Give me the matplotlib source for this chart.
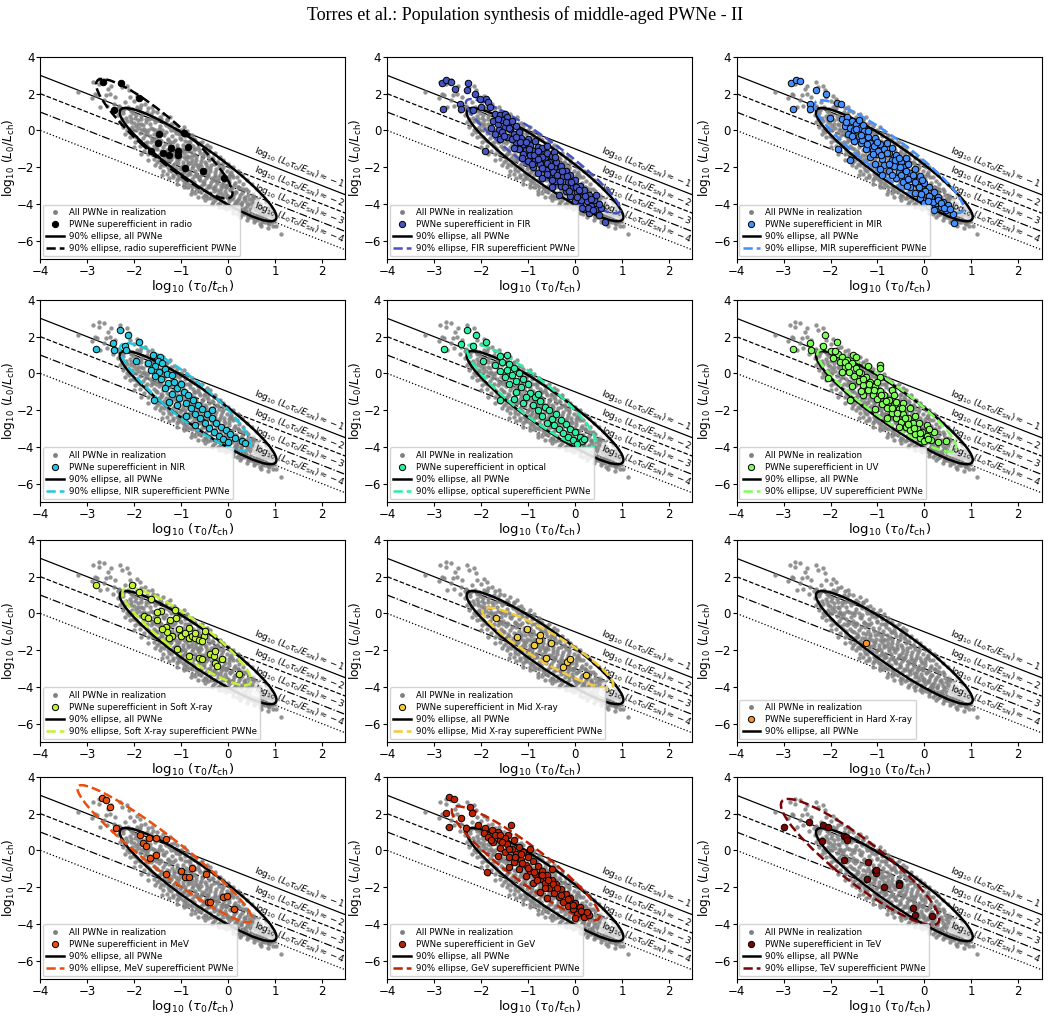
import numpy as np
import matplotlib
matplotlib.use('Agg')                       # pas d'écran, on sauve directement
from matplotlib import pyplot as plt
from matplotlib.patches import Ellipse
from matplotlib.lines import Line2D

# ================================
# Données
# ================================
bandes = ['radio', 'FIR', 'MIR', 'NIR', 'optical', 'UV',
          'Soft X-ray', 'Mid X-ray', 'Hard X-ray', 'MeV', 'GeV', 'TeV']

# niveaux log10(L0 tau0 / E_SN) des droites
niveaux = [-1, -2, -3, -4]

# toutes les PWNe de la réalisation : (log10 tau0/tch, log10 L0/Lch)
pwne_toutes = [
    (-3.19, 2.09), (-2.87, 2.64), (-2.76, 2.82), (-2.65, 2.73), (-2.76, 2.55), (-2.30, 2.64),
    (-2.27, 2.36), (-2.55, 2.27), (-2.83, 2.00), (-2.80, 1.91), (-2.51, 2.00), (-2.41, 1.82),
    (-2.65, 1.64), (-2.58, 1.36), (-2.72, 1.27), (-2.44, 1.45), (-2.09, 1.82), (-2.12, 2.18),
    (-2.23, 1.09), (-2.00, 1.60), (-2.20, 1.55), (-2.35, 1.20), (-1.85, 1.40), (-1.70, 1.20),
    (-1.95, 1.90), (-2.45, 1.05), (-2.60, 1.95), (-2.90, 1.75), (-2.50, 2.45), (-2.15, 2.45),
    (-2.30, 0.45), (-2.34, 0.82), (-2.28, 1.10), (-2.25, 0.20), (-2.32, 1.35), (-2.27, 0.60),
    (-2.16, 0.00), (-2.22, 0.35), (-2.18, 0.70), (-2.24, 0.95), (-2.20, 1.20), (-2.15, 0.50),
    (-2.19, -0.20), (-2.09, -0.36), (-2.12, 0.10), (-2.06, 0.45), (-2.10, 0.80), (-2.08, 1.05),
    (-2.13, 1.30), (-2.05, 0.20), (-2.11, -0.10), (-1.98, -0.64), (-2.02, -0.30), (-1.97, 0.05),
    (-2.01, 0.40), (-1.99, 0.70), (-2.03, 0.95), (-1.95, 1.27), (-1.96, 0.25), (-1.88, -0.85),
    (-1.92, -0.50), (-1.87, -0.15), (-1.90, 0.15), (-1.93, 0.55), (-1.86, 0.80), (-1.88, 1.73),
    (-1.91, 1.10), (-1.85, 0.35), (-1.80, -1.09), (-1.78, -0.70), (-1.82, -0.40), (-1.77, -0.05),
    (-1.81, 0.30), (-1.76, 0.60), (-1.77, 1.45), (-1.83, 0.90), (-1.79, 0.10), (-1.70, -1.30),
    (-1.68, -0.95), (-1.72, -0.60), (-1.66, -0.30), (-1.71, 0.00), (-1.67, 0.35), (-1.69, 0.65),
    (-1.73, -0.15), (-1.65, 0.90), (-1.59, -1.55), (-1.62, -1.20), (-1.58, -0.85), (-1.61, -0.50),
    (-1.57, -0.20), (-1.60, 0.10), (-1.63, 1.27), (-1.56, 0.45), (-1.64, -0.65), (-1.59, 0.70),
    (-1.45, -2.00), (-1.52, -1.70), (-1.48, -1.35), (-1.51, -1.00), (-1.47, -0.70), (-1.53, -0.40),
    (-1.49, -0.10), (-1.52, 1.00), (-1.46, 0.25), (-1.50, 0.55), (-1.54, -0.95), (-1.38, -2.18),
    (-1.42, -1.85), (-1.37, -1.50), (-1.41, -1.20), (-1.39, -0.90), (-1.43, -0.55), (-1.36, -0.25),
    (-1.38, 0.91), (-1.40, 0.05), (-1.35, 0.40), (-1.44, -1.30), (-1.30, -2.35), (-1.28, -2.00),
    (-1.32, -1.70), (-1.27, -1.35), (-1.31, -1.05), (-1.26, -0.75), (-1.29, -0.45), (-1.33, -0.10),
    (-1.25, 0.20), (-1.30, 0.55), (-1.28, -1.55), (-1.17, -2.55), (-1.22, -2.20), (-1.18, -1.90),
    (-1.21, -1.55), (-1.16, -1.25), (-1.20, -0.95), (-1.23, -0.60), (-1.19, -0.30), (-1.24, 0.73),
    (-1.15, 0.00), (-1.22, 0.35), (-1.18, -1.40), (-1.10, -2.70), (-1.08, -2.35), (-1.12, -2.05),
    (-1.07, -1.75), (-1.11, -1.45), (-1.06, -1.15), (-1.09, -0.80), (-1.13, -0.50), (-1.10, 0.27),
    (-1.05, -0.20), (-1.12, 0.00), (-1.08, -1.60), (-0.95, -2.91), (-1.02, -2.60), (-0.98, -2.30),
    (-1.01, -2.00), (-0.97, -1.70), (-1.03, -1.40), (-0.99, -1.10), (-0.96, -0.80), (-1.00, -0.45),
    (-0.95, 0.18), (-1.02, -0.15), (-0.97, -1.90), (-1.04, -2.45), (-0.88, -3.05), (-0.92, -2.75),
    (-0.87, -2.45), (-0.91, -2.15), (-0.86, -1.85), (-0.90, -1.55), (-0.93, -1.25), (-0.89, -0.95),
    (-0.85, -0.60), (-0.91, -0.30), (-0.87, -0.05), (-0.92, -2.00), (-0.88, -1.40), (-0.78, -3.27),
    (-0.82, -2.95), (-0.77, -2.65), (-0.81, -2.35), (-0.76, -2.05), (-0.80, -1.75), (-0.83, -1.45),
    (-0.79, -1.15), (-0.75, -0.85), (-0.81, -0.55), (-0.77, -0.25), (-0.84, -2.20), (-0.78, -1.60),
    (-0.70, -3.40), (-0.68, -3.10), (-0.72, -2.80), (-0.67, -2.50), (-0.71, -2.20), (-0.66, -1.90),
    (-0.69, -1.60), (-0.73, -1.30), (-0.70, -1.00), (-0.65, -0.70), (-0.72, -0.45), (-0.68, -2.35),
    (-0.71, -1.75), (-0.53, -3.64), (-0.62, -3.30), (-0.58, -3.00), (-0.61, -2.70), (-0.57, -2.40),
    (-0.63, -2.10), (-0.59, -1.80), (-0.56, -1.50), (-0.60, -1.20), (-0.64, -0.90), (-0.55, -0.60),
    (-0.62, -2.55), (-0.58, -1.95), (-0.50, -3.50), (-0.48, -3.20), (-0.52, -2.90), (-0.47, -2.60),
    (-0.51, -2.30), (-0.46, -2.00), (-0.49, -1.70), (-0.53, -1.40), (-0.50, -1.10), (-0.45, -0.80),
    (-0.52, -2.75), (-0.48, -2.15), (-0.39, -0.91), (-0.42, -3.70), (-0.38, -3.40), (-0.41, -3.10),
    (-0.37, -2.80), (-0.43, -2.50), (-0.39, -2.20), (-0.36, -1.90), (-0.40, -1.60), (-0.44, -1.30),
    (-0.38, -2.95), (-0.42, -2.35), (-0.32, -3.91), (-0.28, -3.60), (-0.31, -3.30), (-0.27, -3.00),
    (-0.33, -2.70), (-0.29, -2.40), (-0.26, -2.10), (-0.30, -1.80), (-0.34, -1.50), (-0.28, -1.20),
    (-0.31, -3.15), (-0.27, -2.55), (-0.17, -1.45), (-0.22, -4.00), (-0.18, -3.75), (-0.21, -3.45),
    (-0.16, -3.15), (-0.23, -2.85), (-0.19, -2.55), (-0.15, -2.25), (-0.20, -1.95), (-0.24, -1.70),
    (-0.18, -3.30), (-0.22, -2.70), (-0.10, -4.18), (-0.08, -3.90), (-0.12, -3.60), (-0.07, -3.30),
    (-0.11, -3.00), (-0.06, -2.70), (-0.09, -2.40), (-0.13, -2.10), (-0.10, -1.75), (-0.05, -3.45),
    (-0.12, -2.85), (0.04, -2.00), (-0.02, -4.10), (0.02, -3.85), (-0.01, -3.55), (0.03, -3.25),
    (-0.03, -2.95), (0.01, -2.65), (0.05, -2.35), (0.00, -3.70), (-0.04, -3.10), (0.02, -2.50),
    (0.10, -4.35), (0.12, -4.05), (0.08, -3.75), (0.13, -3.45), (0.09, -3.15), (0.14, -2.85),
    (0.11, -2.55), (0.07, -2.25), (0.10, -3.60), (0.15, -3.95), (0.18, -4.55), (0.18, -2.55),
    (0.22, -4.25), (0.19, -3.95), (0.23, -3.65), (0.17, -3.35), (0.21, -3.05), (0.24, -2.75),
    (0.20, -3.80), (0.16, -4.10), (0.32, -2.91), (0.28, -4.60), (0.31, -4.30), (0.27, -4.00),
    (0.33, -3.70), (0.29, -3.40), (0.26, -3.15), (0.30, -3.90), (0.34, -4.45), (0.42, -4.70),
    (0.38, -4.40), (0.41, -4.10), (0.37, -3.80), (0.43, -3.50), (0.39, -3.20), (0.44, -4.55),
    (0.40, -3.95), (0.46, -4.73), (0.53, -3.45), (0.48, -4.45), (0.52, -4.15), (0.50, -3.85),
    (0.55, -4.60), (0.47, -4.00), (0.51, -3.65), (0.58, -4.85), (0.62, -4.55), (0.60, -4.25),
    (0.63, -3.95), (0.57, -3.70), (0.65, -4.40), (0.61, -4.70), (0.67, -5.09), (0.67, -4.00),
    (0.70, -4.75), (0.72, -4.45), (0.68, -4.20), (0.74, -4.90), (0.71, -4.60), (0.82, -4.55),
    (0.78, -5.00), (0.80, -4.80), (0.84, -4.35), (0.79, -4.65), (0.86, -5.05), (0.96, -5.18),
    (0.90, -4.90), (0.93, -4.65), (0.88, -5.10), (0.92, -4.45), (1.13, -5.64), (1.00, -4.95),
    (1.03, -5.20), (0.98, -4.70),
    # bord haut-droit du nuage, près de la droite -1
    (-1.60, 1.05), (-1.45, 0.75), (-1.30, 0.60), (-1.15, 0.40), (-1.00, 0.05), (-0.90, -0.20),
    (-0.80, -0.35), (-0.70, -0.50), (-0.60, -0.70), (-0.50, -0.90), (-0.40, -1.10), (-0.30, -1.30),
    (-0.20, -1.50), (-0.10, -1.60), (0.00, -1.80), (0.10, -2.00), (0.20, -2.20), (0.30, -2.40),
    (0.40, -2.70), (0.50, -2.90), (0.60, -3.20), (0.70, -3.50), (0.80, -3.90), (0.90, -4.20),
    # bord bas-gauche du nuage
    (-2.00, -0.90), (-1.85, -1.30), (-1.70, -1.60), (-1.55, -1.90), (-1.40, -2.40), (-1.25, -2.60),
    (-1.10, -2.90), (-0.95, -3.10), (-0.80, -3.45), (-0.65, -3.60), (-0.50, -3.80), (-0.35, -4.00),
    (-0.20, -4.15), (-0.05, -4.30), (0.10, -4.50), (0.25, -4.70), (0.40, -4.85), (0.55, -5.00),
    (0.70, -5.20), (0.85, -5.30),
    # coeur dense
    (-2.07, 0.60), (-2.02, 0.00), (-2.04, 1.15), (-1.97, -0.35), (-1.93, 0.35), (-1.96, 0.85),
    (-1.87, -0.55), (-1.83, 0.05), (-1.85, 0.60), (-1.88, 1.20), (-1.73, -0.85), (-1.77, -0.25),
    (-1.75, 0.45), (-1.72, 1.00), (-1.67, -1.05), (-1.63, -0.45), (-1.65, 0.15), (-1.62, 0.70),
    (-1.57, -1.30), (-1.53, -0.60), (-1.55, 0.00), (-1.58, 0.60), (-1.47, -1.60), (-1.43, -1.10),
    (-1.45, -0.50), (-1.48, 0.10), (-1.42, 0.65), (-1.37, -1.90), (-1.33, -1.35), (-1.35, -0.75),
    (-1.38, -0.20), (-1.32, 0.30), (-1.27, -2.15), (-1.23, -1.60), (-1.25, -1.10), (-1.28, -0.50),
    (-1.22, 0.05), (-1.17, -2.40), (-1.13, -1.75), (-1.15, -1.10), (-1.18, -0.65), (-1.12, -0.15),
    (-1.07, -2.60), (-1.03, -2.10), (-1.05, -1.55), (-1.08, -0.95), (-1.02, -0.40), (-0.97, -2.70),
    (-0.93, -2.25), (-0.95, -1.45), (-0.98, -1.00), (-0.92, -0.55), (-0.87, -2.85), (-0.83, -2.30),
    (-0.85, -1.70), (-0.88, -1.10), (-0.82, -0.75), (-0.77, -3.05), (-0.73, -2.50), (-0.75, -1.95),
    (-0.78, -1.40), (-0.72, -1.00), (-0.67, -3.20), (-0.63, -2.65), (-0.65, -2.00), (-0.68, -1.45),
    (-0.62, -1.05), (-0.57, -3.35), (-0.53, -2.85), (-0.55, -2.25), (-0.58, -1.65), (-0.52, -1.20),
    (-0.47, -3.55), (-0.43, -3.00), (-0.45, -2.45), (-0.48, -1.85), (-0.42, -1.40), (-0.37, -3.65),
    (-0.33, -3.15), (-0.35, -2.60), (-0.38, -2.05), (-0.32, -1.55), (-0.27, -3.80), (-0.23, -3.25),
    (-0.25, -2.75), (-0.28, -2.25), (-0.22, -1.75), (-0.17, -3.95), (-0.13, -3.45), (-0.15, -2.95),
    (-0.18, -2.45), (-0.12, -2.00), (-0.07, -4.05), (-0.03, -3.60), (-0.05, -3.05), (-0.08, -2.60),
    (-0.02, -2.20), (0.03, -4.20), (0.07, -3.70), (0.05, -3.20), (0.02, -2.80), (0.08, -2.40),
    (0.13, -4.30), (0.17, -3.85), (0.15, -3.35), (0.12, -2.95), (0.23, -4.45), (0.27, -4.05),
    (0.25, -3.50), (0.22, -3.05), (0.33, -4.55), (0.37, -4.20), (0.35, -3.60), (0.32, -3.20),
    (0.43, -4.65), (0.47, -4.25), (0.45, -3.75), (0.42, -3.30), (0.53, -4.75), (0.57, -4.35),
    (0.55, -3.95), (0.52, -3.55), (0.63, -4.90), (0.67, -4.55), (0.65, -4.10), (0.62, -3.75),
    (0.73, -5.00), (0.77, -4.60), (0.75, -4.30), (0.83, -4.90), (0.87, -4.60), (0.85, -4.15),
    (0.93, -5.00), (0.97, -4.80),
]

# PWNe superefficaces, une liste par bande
pwne_radio = [
    (-2.67, 2.65), (-2.28, 2.56), (-1.89, 1.75), (-2.43, 1.12), (-1.48, -0.20), (-0.93, -0.14),
    (-1.50, -0.69), (-1.39, -1.23), (-1.21, -0.96), (-1.26, -1.32), (-1.07, -1.14), (-1.07, -1.32),
    (-0.86, -0.92), (-1.65, -1.14), (-0.91, -2.04), (-0.54, -2.18), (-0.09, -2.58),
]
pwne_fir = [
    (-2.84, 2.56), (-2.74, 2.74), (-2.65, 2.65), (-2.56, 2.25), (-2.29, 2.56), (-2.31, 2.20),
    (-2.13, 1.98), (-2.45, 1.47), (-2.44, 1.17), (-2.81, 1.17), (-1.89, 1.74), (-1.85, 1.56),
    (-1.82, 1.29), (-2.03, 1.74), (-2.17, 1.11), (-1.92, -1.09), (-2.00, 1.30),
    (-1.70, 0.90), (-1.60, 0.84), (-1.50, 0.90), (-1.45, 0.75), (-1.75, 0.50), (-1.65, 0.35),
    (-1.55, 0.55), (-1.42, 0.40), (-1.80, 0.15), (-1.62, 0.05), (-1.50, 0.20), (-1.38, 0.10),
    (-1.70, -0.20), (-1.55, -0.10), (-1.45, -0.35), (-1.30, -0.20), (-1.35, 0.50), (-1.25, 0.25),
    (-1.60, -0.45), (-1.20, -0.10), (-1.15, -0.40), (-1.25, -0.65), (-1.10, -0.75), (-1.00, -0.45),
    (-0.95, -0.80), (-1.05, -1.05), (-1.20, -1.00), (-0.90, -1.10), (-0.85, -0.55), (-0.80, -0.90),
    (-0.75, -1.30), (-0.95, -1.35), (-1.10, -1.30), (-0.70, -0.95), (-0.65, -1.55), (-0.85, -1.60),
    (-1.00, -1.65), (-0.60, -1.20), (-0.55, -1.70), (-0.75, -1.85), (-0.90, -2.00), (-0.50, -1.40),
    (-0.45, -2.00), (-0.62, -2.15), (-0.80, -2.30), (-0.40, -1.70), (-0.35, -2.25), (-0.55, -2.45),
    (-0.70, -2.60), (-0.30, -1.95), (-0.25, -2.50), (-0.40, -2.75), (-0.20, -2.20), (-0.15, -2.80),
    (-0.30, -3.00), (-0.10, -2.45), (-0.05, -3.10), (-0.20, -3.30), (0.00, -2.70), (0.05, -3.35),
    (-0.10, -3.55), (0.10, -3.00), (0.15, -3.60), (0.00, -3.85), (0.20, -3.25), (0.25, -3.85),
    (0.10, -4.05), (0.30, -3.50), (0.35, -4.10), (0.20, -4.30), (0.40, -3.80), (0.45, -4.30),
    (0.30, -4.50), (0.55, -4.20), (0.50, -4.60), (0.63, -5.00), (-0.50, -3.10), (-0.35, -3.50),
    (0.45, -3.50), (-0.60, -0.85), (-0.45, -1.15),
    (-1.65, 0.60), (-1.40, 0.15), (-1.52, -0.30), (-1.35, -0.45), (-1.18, -0.60), (-1.30, -0.95),
    (-1.05, -0.60), (-0.98, -1.00), (-1.12, -1.50), (-0.88, -1.35), (-0.78, -1.10), (-0.70, -1.45),
    (-0.92, -1.80), (-0.60, -1.75), (-0.70, -2.05), (-0.52, -1.95), (-0.48, -2.25), (-0.60, -2.35),
    (-0.38, -2.45), (-0.28, -2.20), (-0.50, -2.70), (-0.32, -2.75), (-0.18, -2.50), (-0.22, -3.05),
    (-0.08, -2.80), (0.02, -3.05), (-0.12, -3.30), (0.08, -3.25), (0.12, -3.80), (0.22, -3.55),
    (0.05, -3.60), (0.28, -4.20), (0.38, -4.35), (0.35, -3.75), (0.15, -4.20), (-1.48, 0.45),
    (-1.25, -0.35), (-0.80, -1.55), (-0.42, -1.45), (0.50, -4.00),
]
pwne_mir = [
    (-2.84, 2.56), (-2.74, 2.77), (-2.65, 2.70), (-2.30, 2.19), (-2.09, 1.98), (-2.44, 1.47),
    (-2.44, 1.17), (-2.79, 1.17), (-1.87, 1.51), (-1.77, 1.47), (-2.01, 0.66), (-1.84, -1.02),
    (-1.59, -1.60), (-1.75, 0.60), (-1.65, 0.75), (-1.55, 0.50), (-1.70, 0.25), (-1.58, 0.15),
    (-1.45, 0.35), (-1.50, 0.00), (-1.38, 0.15), (-1.62, -0.20), (-1.40, -0.30), (-1.30, 0.30),
    (-1.28, -0.05), (-1.50, -0.55), (-1.20, -0.35), (-1.35, -0.70), (-1.15, -0.70), (-1.05, -0.40),
    (-1.25, -1.00), (-1.10, -1.05), (-0.95, -0.75), (-1.00, -1.30), (-0.85, -1.00), (-1.15, -1.45),
    (-0.90, -1.55), (-0.75, -1.25), (-0.80, -0.70), (-1.05, -1.80), (-0.70, -1.60), (-0.85, -1.90),
    (-0.60, -1.35), (-0.65, -1.95), (-0.75, -2.20), (-0.50, -1.70), (-0.55, -2.25), (-0.90, -2.40),
    (-0.45, -2.00), (-0.40, -2.45), (-0.60, -2.60), (-0.35, -1.85), (-0.30, -2.30), (-0.45, -2.80),
    (-0.25, -2.65), (-0.20, -2.10), (-0.15, -2.90), (-0.30, -3.10), (-0.10, -2.50), (-0.05, -3.20),
    (-0.20, -3.40), (0.00, -2.85), (0.05, -3.50), (-0.10, -3.70), (0.10, -3.10), (0.15, -3.70),
    (0.00, -3.95), (0.20, -3.35), (0.25, -3.95), (0.10, -4.10), (0.30, -3.60), (0.35, -4.15),
    (0.20, -4.35), (0.40, -3.90), (0.45, -4.35), (0.50, -4.05), (0.60, -4.55), (0.63, -5.05),
    (-0.70, -0.95), (-0.40, -1.50), (-1.20, -0.05), (-0.95, -2.10),
    (-1.68, 0.45), (-1.45, 0.10), (-1.55, -0.30), (-1.32, -0.50), (-1.22, -0.75), (-1.35, -0.25),
    (-1.08, -0.85), (-0.98, -1.10), (-1.10, -1.30), (-0.92, -1.35), (-0.80, -1.20), (-0.75, -1.80),
    (-0.62, -1.60), (-0.68, -2.40), (-0.52, -2.00), (-0.50, -2.45), (-0.40, -2.20), (-0.35, -2.65),
    (-0.25, -2.40), (-0.38, -3.00), (-0.20, -2.80), (-0.12, -3.10), (-0.05, -2.70), (0.02, -3.30),
    (-0.08, -3.45), (0.10, -3.55), (0.18, -3.90), (0.28, -3.80), (0.35, -3.95), (0.42, -4.20),
    (0.08, -3.85), (-0.55, -1.50), (-1.00, -0.60), (-1.40, 0.55), (0.55, -4.30),
]
pwne_nir = [
    (-2.31, 2.34), (-2.13, 2.10), (-2.45, 1.65), (-2.43, 1.29), (-2.81, 1.35), (-2.20, 1.47),
    (-1.90, 1.69), (-2.18, 1.26), (-1.97, 0.70), (-1.58, -1.42), (-1.60, 1.00), (-1.45, 0.90),
    (-1.50, 0.70), (-1.70, 0.55), (-1.55, 0.40), (-1.40, 0.55), (-1.65, 0.20), (-1.48, 0.10),
    (-1.35, 0.25), (-1.30, -0.05), (-1.55, -0.15), (-1.42, -0.30), (-1.20, -0.10), (-1.28, -0.50),
    (-1.15, -0.45), (-1.35, -0.80), (-1.10, -0.80), (-1.00, -0.55), (-1.20, -1.10), (-0.95, -1.00),
    (-1.05, -1.35), (-0.85, -1.20), (-0.90, -1.60), (-1.10, -1.70), (-0.75, -1.45), (-0.80, -1.90),
    (-0.65, -1.70), (-0.70, -2.20), (-0.55, -1.95), (-0.90, -2.30), (-0.60, -2.45), (-0.45, -2.20),
    (-0.50, -2.70), (-0.35, -2.45), (-0.40, -2.95), (-0.25, -2.70), (-0.30, -3.20), (-0.15, -2.90),
    (-0.20, -3.40), (-0.05, -3.10), (-0.10, -3.55), (0.05, -3.30), (0.00, -3.75), (0.15, -3.50),
    (0.30, -3.70), (0.37, -3.76), (-0.70, -2.80), (-1.25, -1.55), (-0.35, -2.00),
]
pwne_optical = [
    (-2.30, 2.34), (-2.11, 2.10), (-2.44, 1.62), (-2.79, 1.35), (-2.18, 1.47), (-1.89, 1.69),
    (-1.96, 0.70), (-1.60, -1.42), (-1.46, 1.02), (-1.60, 0.95), (-1.55, 0.60), (-1.70, 0.45),
    (-1.40, 0.50), (-1.60, 0.15), (-1.45, 0.20), (-1.30, 0.30), (-1.35, -0.10), (-1.50, -0.20),
    (-1.20, 0.00), (-1.25, -0.40), (-1.10, -0.30), (-1.40, -0.60), (-1.15, -0.75), (-1.00, -0.60),
    (-1.25, -1.00), (-0.95, -1.05), (-1.05, -1.30), (-0.85, -1.30), (-1.10, -1.60), (-0.90, -1.70),
    (-0.75, -1.50), (-0.80, -2.00), (-0.65, -1.80), (-0.70, -2.30), (-0.55, -2.00), (-0.50, -2.50),
    (-0.40, -2.20), (-0.45, -2.80), (-0.30, -2.55), (-0.35, -3.00), (-0.20, -2.75), (-0.25, -3.25),
    (-0.10, -3.00), (-0.15, -3.45), (0.00, -3.20), (-0.05, -3.60), (0.10, -3.45), (0.15, -3.70),
    (0.20, -3.55), (0.05, -3.85), (-0.60, -2.70), (-1.30, -1.40), (-0.80, -1.10),
]
pwne_uv = [
    (-2.12, 2.10), (-2.44, 1.65), (-2.42, 1.29), (-2.79, 1.35), (-2.16, 1.47), (-1.87, 1.69),
    (-2.06, -0.24), (-0.95, 0.44), (-0.95, 0.30), (-1.52, 1.02), (-1.59, -1.42), (-2.00, 1.25),
    (-1.85, 1.05), (-1.95, 0.85), (-1.75, 0.90), (-1.80, 0.60), (-1.65, 0.75), (-1.70, 0.35),
    (-1.55, 0.55), (-1.60, 0.10), (-1.45, 0.30), (-1.50, -0.15), (-1.35, 0.05), (-1.40, -0.40),
    (-1.25, -0.20), (-1.30, -0.65), (-1.15, -0.45), (-1.20, -0.90), (-1.05, -0.70), (-1.10, -1.15),
    (-0.95, -0.95), (-1.00, -1.40), (-0.85, -1.20), (-0.90, -1.65), (-0.75, -1.45), (-0.80, -1.90),
    (-0.65, -1.70), (-0.70, -2.15), (-0.55, -1.95), (-0.60, -2.40), (-0.45, -2.20), (-0.50, -2.65),
    (-0.35, -2.45), (-0.40, -2.90), (-0.25, -2.70), (-0.30, -3.10), (-0.15, -2.95), (-0.20, -3.30),
    (-0.05, -3.20), (-0.10, -3.50), (0.05, -3.40), (0.00, -3.70), (0.15, -3.60), (0.30, -3.75),
    (0.45, -3.70), (-1.55, -0.70), (-1.30, -1.20), (-1.05, -1.95), (-0.80, -2.40), (-0.55, -2.90),
    (-1.45, 0.90), (-1.20, 0.40), (-0.95, -0.20), (-0.70, -0.90), (-0.45, -1.60), (-0.20, -2.30),
    (0.05, -2.80), (-1.75, 0.10), (-0.30, -1.90), (-0.65, -1.20), (-1.00, -0.45), (0.20, -3.20),
    (-1.35, -0.95), (-1.90, 1.20), (-1.70, 0.65), (-1.62, 0.40), (-1.40, 0.10), (-1.30, -0.30),
    (-1.18, -0.55), (-1.08, -0.90), (-0.92, -1.20), (-0.82, -1.50), (-0.68, -1.90), (-0.58, -2.15),
    (-0.42, -2.45), (-0.35, -2.75), (-0.22, -2.95), (-0.10, -3.25), (0.08, -3.55), (-0.48, -1.90),
    (-0.60, -1.55), (-0.12, -2.70), (0.10, -3.05),
]
pwne_softx = [
    (-2.81, 1.53), (-2.04, 1.56), (-1.90, 1.17), (-1.65, 0.79), (-1.79, -0.15), (-1.70, -0.24),
    (-1.51, -0.33), (-1.44, 0.16), (-1.23, -0.33), (-1.13, 0.17), (-1.12, -0.24), (-1.32, -0.73),
    (-1.30, -1.02), (-1.19, -1.23), (-1.26, -1.32), (-1.05, -0.87), (-1.01, -1.23), (-0.91, -1.05),
    (-0.84, -1.32), (-0.78, -1.23), (-0.70, -1.32), (-0.62, -1.42), (-0.52, -1.23), (-0.50, -0.96),
    (-0.55, -1.50), (-0.71, -1.05), (-0.84, -2.32), (-0.62, -2.41), (-0.55, -2.50), (-0.38, -2.23),
    (-0.30, -2.32), (-0.27, -2.05), (-0.27, -2.68), (-0.23, -2.86), (-0.13, -2.50), (0.23, -3.31),
    (-1.09, -1.96), (-1.40, -0.87), (-0.84, -0.78), (-1.51, 0.08),
]
pwne_midx = [
    (-1.69, -0.24), (-1.23, -1.27), (-1.02, -0.87), (-0.77, -1.42), (-0.74, -1.18), (-0.87, -1.74),
    (-0.52, -1.63), (-0.61, -2.41), (-0.18, -2.64), (-0.11, -2.46), (-0.26, -2.90), (0.24, -3.35),
]
pwne_hardx = [
    (-1.24, -1.60),
]
pwne_mev = [
    (-2.69, 2.88), (-2.60, 2.77), (-2.51, 2.38), (-2.40, 1.20), (-1.87, 0.86), (-1.69, 0.67),
    (-1.54, 0.67), (-1.81, 0.40), (-1.76, 0.25), (-1.33, 0.63), (-1.54, -0.23), (-1.67, -0.42),
    (-1.33, -1.31), (-1.01, -1.12), (-0.92, -1.43), (-0.83, -1.43), (-0.78, -0.93), (-0.47, -1.28),
    (-0.42, -2.80), (-0.39, -2.80), (-0.10, -2.51), (-0.03, -2.46), (0.13, -3.18),
]
pwne_gev = [
    (-2.69, 2.92), (-2.58, 2.82), (-2.74, 2.06), (-2.69, 1.30), (-2.42, 1.77), (-2.24, 2.35),
    (-2.20, 2.06), (-2.33, 1.20), (-2.06, 1.39), (-1.92, 1.20), (-1.78, 1.11), (-1.65, 1.01),
    (-1.42, 0.82), (-1.37, 1.39), (-1.87, -1.18), (-1.95, 0.95), (-1.85, 0.75), (-1.70, 0.85),
    (-1.60, 0.55), (-1.75, 0.45), (-1.50, 0.70), (-1.45, 0.35), (-1.60, 0.15), (-1.30, 0.55),
    (-1.35, 0.10), (-1.50, -0.10), (-1.20, 0.20), (-1.25, -0.20), (-1.40, -0.35), (-1.10, -0.10),
    (-1.15, -0.50), (-1.30, -0.65), (-1.00, -0.35), (-1.05, -0.80), (-0.90, -0.60), (-1.20, -1.00),
    (-0.95, -1.10), (-0.80, -0.85), (-0.85, -1.30), (-1.05, -1.40), (-0.70, -1.10), (-0.75, -1.55),
    (-0.60, -1.35), (-0.90, -1.80), (-0.65, -1.80), (-0.50, -1.60), (-0.55, -2.05), (-0.40, -1.85),
    (-0.45, -2.30), (-0.30, -2.10), (-0.75, -2.25), (-0.35, -2.55), (-0.20, -2.35), (-0.25, -2.80),
    (-0.10, -2.60), (-0.15, -3.00), (0.00, -2.85), (-0.05, -3.20), (0.10, -3.10), (0.05, -3.45),
    (0.15, -3.35), (0.20, -3.60), (0.30, -3.50), (-0.60, -2.60), (-1.40, -0.90), (-1.65, -0.30),
    (-0.95, 0.10), (-0.50, -1.00), (0.00, -3.70), (-1.80, 0.55), (-1.55, 0.45), (-1.40, 0.10),
    (-1.28, -0.35), (-1.12, -0.70), (-1.00, -0.95), (-0.88, -1.15), (-0.70, -1.35), (-0.82, -1.60),
    (-0.58, -1.60), (-0.48, -1.85), (-0.38, -2.05), (-0.30, -2.45), (-0.15, -2.65), (-0.05, -2.95),
    (0.12, -3.30), (-1.60, 0.85), (-1.15, -0.20), (-0.65, -2.05), (0.25, -3.35),
]
pwne_tev = [
    (-2.99, 1.27), (-2.46, 1.55), (-2.17, 1.38), (-2.05, 1.29), (-1.72, 0.78), (-1.66, 0.75),
    (-1.64, 0.56), (-2.19, 0.51), (-1.72, -0.53), (-1.20, -0.64), (-1.06, -1.13), (-1.03, -1.25),
    (-1.03, -1.04), (-1.22, -1.53), (-0.87, -2.00), (-0.54, -1.76), (-0.54, -1.89), (-0.25, -3.16),
    (-0.19, -3.49), (0.16, -3.55),
]
pwne_bandes = [pwne_radio, pwne_fir, pwne_mir, pwne_nir, pwne_optical, pwne_uv,
               pwne_softx, pwne_midx, pwne_hardx, pwne_mev, pwne_gev, pwne_tev]

# ellipses à 90 % : centre, grand axe, petit axe, angle (degrés)
ellipse_toutes = (-0.64, -1.86, 6.92, 1.14, -62.6)
ell_cx = [-1.36, -0.68, -0.75, -0.91, -0.93, -0.80, -0.88, -0.58, None, -1.35, -1.05, -1.37]
ell_cy = [-0.45, -1.40, -1.42, -1.28, -1.22, -1.48, -1.25, -1.87, None, -0.18, -0.70, -0.63]
ell_larg = [7.04, 6.96, 6.82, 6.40, 6.20, 6.22, 5.88, 5.10, None, 8.28, 6.88, 7.54]
ell_haut = [1.12, 1.04, 1.16, 1.16, 1.12, 1.10, 1.10, 1.00, None, 1.04, 1.10, 1.30]
ell_angle = [-67.3, -63.0, -63.9, -66.2, -65.7, -63.3, -64.2, -58.6, None, -64.2, -64.2, -65.2]


# ================================
# Fonction pour dessiner un panneau
# ================================
def trace_panneau(ax, i, couleur):
    bande = bandes[i]

    # droites d'efficacité constante log10(L0 tau0/E_SN) = niveau
    x_lig = np.array([-4.0, 2.5])
    for niv, ls in zip(niveaux, ['-', '--', '-.', ':']):
        ax.plot(x_lig, niv - x_lig, color='k', ls=ls, lw=0.9, zorder=1)
        ax.text(0.5, niv - 0.5 + 0.1,
                r'$\log_{10}\,(L_0\tau_0/E_{\rm SN}) \approx -%d$' % (-niv),
                rotation=-45, transform_rotates_text=True, rotation_mode='anchor',
                ha='left', va='bottom', fontsize=6.4, zorder=3, clip_on=True,
                bbox=dict(facecolor='white', edgecolor='none', alpha=0.65, pad=0.5))

    # nuage gris de toutes les PWNe
    gx, gy = np.array(pwne_toutes).T
    ax.scatter(gx, gy, s=10, color='gray', alpha=0.85, lw=0, zorder=2)

    # ellipse de toutes les PWNe
    cx, cy, w, h, ang = ellipse_toutes
    ax.add_patch(Ellipse((cx, cy), w, h, angle=ang, fill=False, ec='k', lw=1.8, zorder=4))

    # ellipse des superefficaces (pas pour Hard X-ray, un seul point)
    if ell_cx[i] is not None:
        ax.add_patch(Ellipse((ell_cx[i], ell_cy[i]), ell_larg[i], ell_haut[i], angle=ell_angle[i],
                             fill=False, ec=couleur, lw=1.8, ls='--', zorder=4))

    # PWNe superefficaces
    px, py = np.array(pwne_bandes[i]).T
    ax.scatter(px, py, s=22, color=couleur, edgecolors='k', linewidths=0.7, zorder=5)

    # légende faite à la main
    poignees = [Line2D([], [], ls='', marker='o', ms=3.5, mfc='gray', mec='none'),
                Line2D([], [], ls='', marker='o', ms=4.5, mfc=couleur, mec='k', mew=0.7),
                Line2D([], [], color='k', lw=1.8)]
    textes = ['All PWNe in realization', 'PWNe superefficient in ' + bande,
              '90% ellipse, all PWNe']
    if ell_cx[i] is not None:
        poignees.append(Line2D([], [], color=couleur, lw=1.8, ls='--'))
        textes.append('90% ellipse, ' + bande + ' superefficient PWNe')
    ax.legend(poignees, textes, loc='lower left', fontsize=6.2, framealpha=0.85,
              borderpad=0.4, labelspacing=0.35, handletextpad=0.6, borderaxespad=0.3)

    ax.set_xlim(-4, 2.5)
    ax.set_ylim(-7, 4)
    ax.set_xticks(range(-4, 3))
    ax.set_yticks([-6, -4, -2, 0, 2, 4])
    ax.tick_params(labelsize=8.5, length=2.8, pad=1.5)
    ax.set_xlabel(r'$\log_{10}\,(\tau_0/t_{\rm ch})$', fontsize=9.5, labelpad=0)
    ax.set_ylabel(r'$\log_{10}\,(L_0/L_{\rm ch})$', fontsize=8.8)
    ax.yaxis.set_label_coords(-0.076, 0.5)


# ================================
# Fonction principale
# ================================
def main():
    fig = plt.figure(figsize=(10.5, 10.17), dpi=100)
    fig.text(0.5, 0.985, 'Torres et al.: Population synthesis of middle-aged PWNe - II',
             ha='center', va='center', fontsize=13, family='Liberation Serif')

    # radio en noir, les autres bandes le long de la palette turbo
    couleurs = list(plt.get_cmap('turbo')(np.linspace(0, 1, 12)))
    couleurs[0] = 'black'
    gauches = [0.0385, 0.3689, 0.7016]
    bas = [0.7453, 0.5064, 0.2704, 0.0374]

    for i in range(12):
        ligne, col = divmod(i, 3)
        ax = fig.add_axes([gauches[col], bas[ligne], 0.2905, 0.1986])
        trace_panneau(ax, i, couleurs[i])

    fig.savefig('out.png', dpi=100)


if __name__ == "__main__":
    main()
